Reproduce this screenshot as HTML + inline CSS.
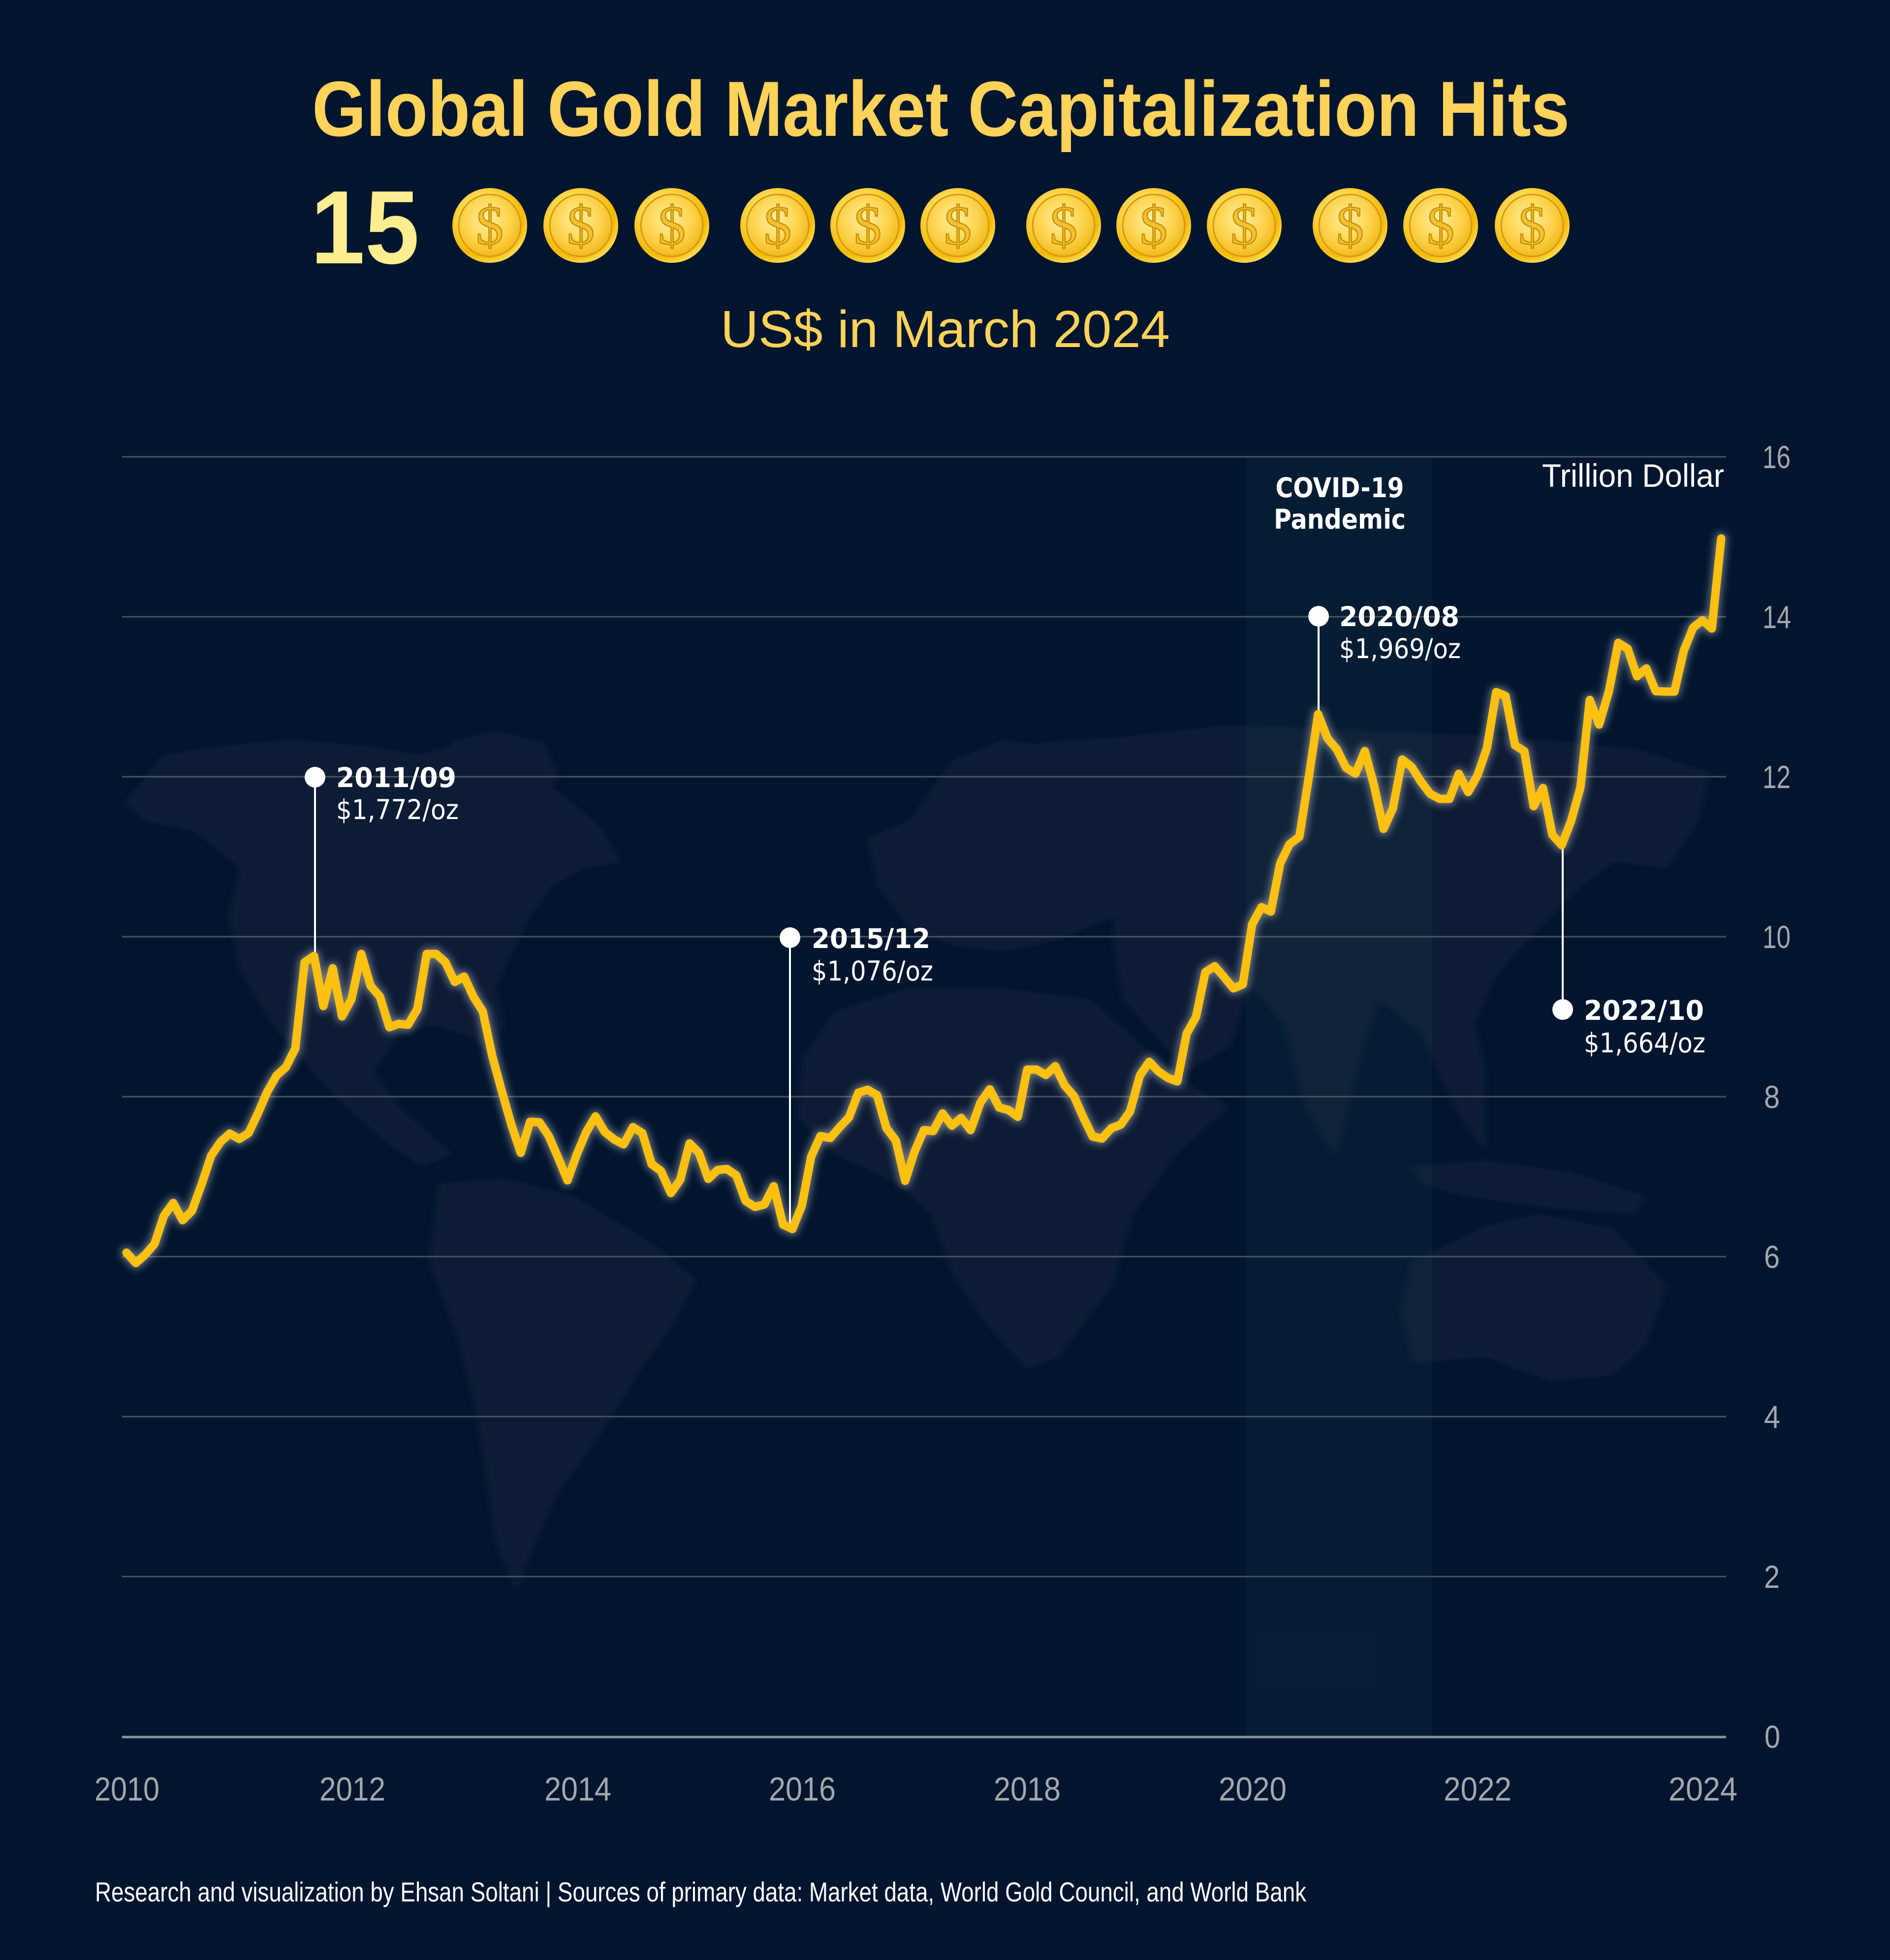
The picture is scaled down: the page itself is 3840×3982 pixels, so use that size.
<!DOCTYPE html>
<html>
<head>
<meta charset="utf-8">
<style>
  html,body{margin:0;padding:0;background:#01152e;}
  svg{display:block;}
</style>
</head>
<body>
<svg xmlns="http://www.w3.org/2000/svg" width="3840" height="3982" viewBox="0 0 3840 3982">
  <defs>
    <radialGradient id="cg" cx="0.42" cy="0.38" r="0.62">
      <stop offset="0" stop-color="#fff3a8"/>
      <stop offset="0.45" stop-color="#ffdc5a"/>
      <stop offset="0.85" stop-color="#f3b807"/>
      <stop offset="1" stop-color="#ffd84a"/>
    </radialGradient>
    <radialGradient id="cg2" cx="0.45" cy="0.4" r="0.65">
      <stop offset="0" stop-color="#fff0a0"/>
      <stop offset="0.6" stop-color="#fdd24a"/>
      <stop offset="1" stop-color="#eeb310"/>
    </radialGradient>
    <filter id="glow" x="-5%" y="-10%" width="110%" height="120%">
      <feGaussianBlur stdDeviation="8"/>
    </filter>
    <filter id="soft" x="-5%" y="-5%" width="110%" height="110%">
      <feGaussianBlur stdDeviation="4"/>
    </filter>
  </defs>

  <rect x="0" y="0" width="3840" height="3982" fill="#01152e"/>

  <!-- Title -->
  <text x="634" y="276" font-family="Liberation Sans, sans-serif" font-weight="bold" font-size="159" fill="#ffd35a" textLength="2555" lengthAdjust="spacingAndGlyphs">Global Gold Market Capitalization Hits</text>
  <text x="631" y="535" font-family="Liberation Sans, sans-serif" font-weight="bold" font-size="212" fill="#ffee90" textLength="221" lengthAdjust="spacingAndGlyphs">15</text>

  <!-- Coins -->
  <g font-family="Liberation Serif, serif" font-size="112" text-anchor="middle">
    <g transform="translate(995,458)"><circle r="76" fill="url(#cg)"/><circle r="63" fill="url(#cg2)" stroke="#d69a0c" stroke-width="3"/><text x="0" y="38" fill="#f4c232" stroke="#c98f08" stroke-width="2.5">$</text></g>
    <g transform="translate(1180,458)"><circle r="76" fill="url(#cg)"/><circle r="63" fill="url(#cg2)" stroke="#d69a0c" stroke-width="3"/><text x="0" y="38" fill="#f4c232" stroke="#c98f08" stroke-width="2.5">$</text></g>
    <g transform="translate(1365,458)"><circle r="76" fill="url(#cg)"/><circle r="63" fill="url(#cg2)" stroke="#d69a0c" stroke-width="3"/><text x="0" y="38" fill="#f4c232" stroke="#c98f08" stroke-width="2.5">$</text></g>
    <g transform="translate(1580,458)"><circle r="76" fill="url(#cg)"/><circle r="63" fill="url(#cg2)" stroke="#d69a0c" stroke-width="3"/><text x="0" y="38" fill="#f4c232" stroke="#c98f08" stroke-width="2.5">$</text></g>
    <g transform="translate(1763,458)"><circle r="76" fill="url(#cg)"/><circle r="63" fill="url(#cg2)" stroke="#d69a0c" stroke-width="3"/><text x="0" y="38" fill="#f4c232" stroke="#c98f08" stroke-width="2.5">$</text></g>
    <g transform="translate(1946,458)"><circle r="76" fill="url(#cg)"/><circle r="63" fill="url(#cg2)" stroke="#d69a0c" stroke-width="3"/><text x="0" y="38" fill="#f4c232" stroke="#c98f08" stroke-width="2.5">$</text></g>
    <g transform="translate(2161,458)"><circle r="76" fill="url(#cg)"/><circle r="63" fill="url(#cg2)" stroke="#d69a0c" stroke-width="3"/><text x="0" y="38" fill="#f4c232" stroke="#c98f08" stroke-width="2.5">$</text></g>
    <g transform="translate(2344,458)"><circle r="76" fill="url(#cg)"/><circle r="63" fill="url(#cg2)" stroke="#d69a0c" stroke-width="3"/><text x="0" y="38" fill="#f4c232" stroke="#c98f08" stroke-width="2.5">$</text></g>
    <g transform="translate(2528,458)"><circle r="76" fill="url(#cg)"/><circle r="63" fill="url(#cg2)" stroke="#d69a0c" stroke-width="3"/><text x="0" y="38" fill="#f4c232" stroke="#c98f08" stroke-width="2.5">$</text></g>
    <g transform="translate(2743,458)"><circle r="76" fill="url(#cg)"/><circle r="63" fill="url(#cg2)" stroke="#d69a0c" stroke-width="3"/><text x="0" y="38" fill="#f4c232" stroke="#c98f08" stroke-width="2.5">$</text></g>
    <g transform="translate(2927,458)"><circle r="76" fill="url(#cg)"/><circle r="63" fill="url(#cg2)" stroke="#d69a0c" stroke-width="3"/><text x="0" y="38" fill="#f4c232" stroke="#c98f08" stroke-width="2.5">$</text></g>
    <g transform="translate(3113,458)"><circle r="76" fill="url(#cg)"/><circle r="63" fill="url(#cg2)" stroke="#d69a0c" stroke-width="3"/><text x="0" y="38" fill="#f4c232" stroke="#c98f08" stroke-width="2.5">$</text></g>
  </g>

  <text x="1464" y="705" font-family="Liberation Sans, sans-serif" font-size="106" fill="#ffd35a" textLength="913" lengthAdjust="spacingAndGlyphs">US$ in March 2024</text>

  <!-- World map (approximate, faint) -->
  <g transform="translate(200,1400) scale(2.168,1.2117)" fill="#081c34" filter="url(#soft)">
    <polygon points="25,190 60,110 120,95 180,85 250,95 300,110 330,95 360,100 390,150 430,170 470,230 490,290 455,300 425,330 405,380 388,440 372,500 380,560 372,620 352,585 312,562 280,585 258,640 282,700 332,780 302,800 270,760 232,700 200,640 162,560 132,470 122,380 132,300 92,240 42,220"/>
    <polygon points="330,88 372,70 418,90 432,150 405,205 372,195 348,145"/>
    <polygon points="318,830 380,820 445,850 520,930 560,990 540,1060 505,1150 470,1250 430,1350 405,1450 392,1515 372,1430 362,1300 350,1180 335,1080 310,960"/>
    <polygon points="720,250 760,220 800,120 850,85 900,100 920,160 950,200 960,300 955,380 900,420 850,440 800,430 760,400 730,330"/>
    <polygon points="690,540 760,500 840,500 930,520 980,600 1020,660 1060,700 1010,780 970,880 950,1000 900,1120 870,1140 830,1060 800,980 780,880 750,830 690,780 655,720 660,620"/>
    <polygon points="880,90 960,80 1060,60 1200,70 1320,80 1440,100 1510,140 1500,220 1470,300 1420,290 1390,330 1340,420 1310,480 1290,560 1300,640 1300,780 1270,700 1240,580 1200,520 1180,640 1160,790 1130,700 1110,560 1080,500 1060,600 1020,640 960,520 950,420 960,300 940,200"/>
    <polygon points="1230,800 1300,790 1380,810 1450,850 1440,880 1360,870 1280,850 1240,830"/>
    <polygon points="1230,960 1300,900 1350,880 1420,905 1470,1000 1450,1100 1420,1150 1360,1160 1300,1120 1232,1130 1220,1040"/>
  </g>

  <!-- COVID band -->
  <rect x="2532" y="928" width="378" height="2600" fill="rgb(30,70,80)" fill-opacity="0.17"/>

  <!-- Gridlines -->
  <g stroke="#4d545c" stroke-width="3">
    <line x1="248" y1="928" x2="3507" y2="928"/>
    <line x1="248" y1="1253" x2="3507" y2="1253"/>
    <line x1="248" y1="1578" x2="3507" y2="1578"/>
    <line x1="248" y1="1903" x2="3507" y2="1903"/>
    <line x1="248" y1="2228" x2="3507" y2="2228"/>
    <line x1="248" y1="2553" x2="3507" y2="2553"/>
    <line x1="248" y1="2878" x2="3507" y2="2878"/>
    <line x1="248" y1="3203" x2="3507" y2="3203"/>
  </g>
  <line x1="248" y1="3529" x2="3507" y2="3529" stroke="#8b929a" stroke-width="5"/>

  <!-- Y labels -->
  <g font-family="Liberation Sans, sans-serif" font-size="65" fill="#a3a7ad">
    <text x="3581" y="951" textLength="57" lengthAdjust="spacingAndGlyphs">16</text>
    <text x="3581" y="1276" textLength="58" lengthAdjust="spacingAndGlyphs">14</text>
    <text x="3581" y="1601" textLength="57" lengthAdjust="spacingAndGlyphs">12</text>
    <text x="3581" y="1926" textLength="57" lengthAdjust="spacingAndGlyphs">10</text>
    <text x="3584" y="2251" textLength="32" lengthAdjust="spacingAndGlyphs">8</text>
    <text x="3584" y="2576" textLength="32" lengthAdjust="spacingAndGlyphs">6</text>
    <text x="3584" y="2901" textLength="33" lengthAdjust="spacingAndGlyphs">4</text>
    <text x="3584" y="3226" textLength="32" lengthAdjust="spacingAndGlyphs">2</text>
    <text x="3585" y="3551" textLength="32" lengthAdjust="spacingAndGlyphs">0</text>
  </g>

  <text x="3503" y="989" text-anchor="end" font-family="Liberation Sans, sans-serif" font-size="66" fill="#ffffff" textLength="370" lengthAdjust="spacingAndGlyphs">Trillion Dollar</text>

  <!-- X labels -->
  <g font-family="Liberation Sans, sans-serif" font-size="68" fill="#a3a7ad" text-anchor="middle">
    <text x="258" y="3658" textLength="132" lengthAdjust="spacingAndGlyphs">2010</text>
    <text x="716" y="3658" textLength="134" lengthAdjust="spacingAndGlyphs">2012</text>
    <text x="1174" y="3658" textLength="136" lengthAdjust="spacingAndGlyphs">2014</text>
    <text x="1630" y="3658" textLength="136" lengthAdjust="spacingAndGlyphs">2016</text>
    <text x="2087" y="3658" textLength="136" lengthAdjust="spacingAndGlyphs">2018</text>
    <text x="2545" y="3658" textLength="138" lengthAdjust="spacingAndGlyphs">2020</text>
    <text x="3002" y="3658" textLength="138" lengthAdjust="spacingAndGlyphs">2022</text>
    <text x="3460" y="3658" textLength="140" lengthAdjust="spacingAndGlyphs">2024</text>
  </g>

  <!-- COVID label -->
  <g font-family="DejaVu Sans, sans-serif" font-weight="bold" font-size="55" fill="#ffffff" text-anchor="middle">
    <text x="2722" y="1010" textLength="261" lengthAdjust="spacingAndGlyphs">COVID-19</text>
    <text x="2722" y="1074" textLength="268" lengthAdjust="spacingAndGlyphs">Pandemic</text>
  </g>

  <!-- Annotation connectors -->
  <g stroke="#ffffff" stroke-width="4">
    <line x1="640" y1="1579" x2="640" y2="1942"/>
    <line x1="1605" y1="1905" x2="1605" y2="2485"/>
    <line x1="2679" y1="1252" x2="2679" y2="1451"/>
    <line x1="3175" y1="2051" x2="3175" y2="1717"/>
  </g>

  <!-- Series glow + line -->
  <g fill="none" stroke-linejoin="round" stroke-linecap="round">
    <polyline stroke="#d8d8d8" stroke-width="24" opacity="0.5" filter="url(#glow)" points="257,2545 276,2566 295,2549 314,2527 333,2470 352,2444 371,2479 390,2460 410,2405 429,2348 448,2320 467,2303 486,2314 505,2302 524,2262 543,2218 562,2185 581,2168 600,2130 619,1955 638,1942 657,2044 676,1967 695,2065 714,2030 734,1938 753,2003 772,2025 791,2087 810,2080 829,2082 848,2050 867,1938 886,1938 905,1955 924,1995 943,1984 962,2025 981,2055 1000,2145 1019,2215 1039,2285 1058,2342 1077,2279 1096,2280 1115,2308 1134,2352 1153,2398 1172,2345 1191,2300 1210,2268 1229,2300 1248,2315 1267,2325 1286,2290 1305,2302 1324,2365 1343,2379 1363,2424 1382,2397 1401,2323 1420,2342 1439,2395 1458,2377 1477,2375 1496,2388 1515,2440 1534,2452 1553,2447 1572,2410 1591,2488 1610,2497 1629,2450 1648,2350 1667,2308 1687,2312 1706,2290 1725,2270 1744,2220 1763,2214 1782,2225 1801,2292 1820,2317 1839,2399 1858,2340 1877,2296 1896,2298 1915,2262 1934,2287 1953,2271 1972,2296 1992,2240 2011,2213 2030,2250 2049,2255 2068,2269 2087,2173 2106,2173 2125,2184 2144,2166 2163,2205 2182,2227 2201,2270 2220,2309 2239,2313 2258,2292 2277,2285 2296,2258 2316,2185 2335,2157 2354,2177 2373,2190 2392,2197 2411,2100 2430,2066 2449,1975 2468,1963 2487,1985 2506,2008 2525,2000 2544,1878 2563,1843 2582,1852 2601,1754 2620,1715 2640,1700 2659,1580 2678,1451 2697,1500 2716,1522 2735,1560 2754,1572 2773,1526 2792,1597 2811,1684 2830,1642 2849,1543 2868,1558 2887,1588 2906,1613 2925,1623 2945,1623 2964,1572 2983,1609 3002,1575 3021,1520 3040,1406 3059,1414 3078,1514 3097,1526 3116,1638 3135,1601 3154,1696 3173,1717 3192,1668 3211,1600 3230,1422 3249,1472 3269,1404 3288,1306 3307,1318 3326,1374 3345,1358 3364,1404 3383,1405 3402,1405 3421,1322 3440,1275 3459,1260 3478,1277 3497,1094"/>
    <polyline stroke="#fcc010" stroke-width="17" points="257,2545 276,2566 295,2549 314,2527 333,2470 352,2444 371,2479 390,2460 410,2405 429,2348 448,2320 467,2303 486,2314 505,2302 524,2262 543,2218 562,2185 581,2168 600,2130 619,1955 638,1942 657,2044 676,1967 695,2065 714,2030 734,1938 753,2003 772,2025 791,2087 810,2080 829,2082 848,2050 867,1938 886,1938 905,1955 924,1995 943,1984 962,2025 981,2055 1000,2145 1019,2215 1039,2285 1058,2342 1077,2279 1096,2280 1115,2308 1134,2352 1153,2398 1172,2345 1191,2300 1210,2268 1229,2300 1248,2315 1267,2325 1286,2290 1305,2302 1324,2365 1343,2379 1363,2424 1382,2397 1401,2323 1420,2342 1439,2395 1458,2377 1477,2375 1496,2388 1515,2440 1534,2452 1553,2447 1572,2410 1591,2488 1610,2497 1629,2450 1648,2350 1667,2308 1687,2312 1706,2290 1725,2270 1744,2220 1763,2214 1782,2225 1801,2292 1820,2317 1839,2399 1858,2340 1877,2296 1896,2298 1915,2262 1934,2287 1953,2271 1972,2296 1992,2240 2011,2213 2030,2250 2049,2255 2068,2269 2087,2173 2106,2173 2125,2184 2144,2166 2163,2205 2182,2227 2201,2270 2220,2309 2239,2313 2258,2292 2277,2285 2296,2258 2316,2185 2335,2157 2354,2177 2373,2190 2392,2197 2411,2100 2430,2066 2449,1975 2468,1963 2487,1985 2506,2008 2525,2000 2544,1878 2563,1843 2582,1852 2601,1754 2620,1715 2640,1700 2659,1580 2678,1451 2697,1500 2716,1522 2735,1560 2754,1572 2773,1526 2792,1597 2811,1684 2830,1642 2849,1543 2868,1558 2887,1588 2906,1613 2925,1623 2945,1623 2964,1572 2983,1609 3002,1575 3021,1520 3040,1406 3059,1414 3078,1514 3097,1526 3116,1638 3135,1601 3154,1696 3173,1717 3192,1668 3211,1600 3230,1422 3249,1472 3269,1404 3288,1306 3307,1318 3326,1374 3345,1358 3364,1404 3383,1405 3402,1405 3421,1322 3440,1275 3459,1260 3478,1277 3497,1094"/>
  </g>

  <!-- Annotation dots -->
  <g fill="#ffffff">
    <circle cx="640" cy="1579" r="21"/>
    <circle cx="1605" cy="1905" r="21"/>
    <circle cx="2679" cy="1252" r="21"/>
    <circle cx="3175" cy="2051" r="21"/>
  </g>

  <!-- Annotation texts -->
  <g font-family="DejaVu Sans, sans-serif" fill="#ffffff">
    <text x="683" y="1599" font-weight="bold" font-size="55" textLength="244" lengthAdjust="spacingAndGlyphs">2011/09</text>
    <text x="683" y="1664" font-size="55" textLength="249" lengthAdjust="spacingAndGlyphs">$1,772/oz</text>

    <text x="1649" y="1926" font-weight="bold" font-size="55" textLength="241" lengthAdjust="spacingAndGlyphs">2015/12</text>
    <text x="1649" y="1992" font-size="55" textLength="247" lengthAdjust="spacingAndGlyphs">$1,076/oz</text>

    <text x="2721" y="1272" font-weight="bold" font-size="55" textLength="244" lengthAdjust="spacingAndGlyphs">2020/08</text>
    <text x="2721" y="1337" font-size="55" textLength="247" lengthAdjust="spacingAndGlyphs">$1,969/oz</text>

    <text x="3218" y="2072" font-weight="bold" font-size="55" textLength="244" lengthAdjust="spacingAndGlyphs">2022/10</text>
    <text x="3218" y="2138" font-size="55" textLength="247" lengthAdjust="spacingAndGlyphs">$1,664/oz</text>
  </g>

  <!-- Footer -->
  <text x="193" y="3863" font-family="Liberation Sans, sans-serif" font-size="56" fill="#ffffff" textLength="2461" lengthAdjust="spacingAndGlyphs">Research and visualization by Ehsan Soltani | Sources of primary data: Market data, World Gold Council, and World Bank</text>
</svg>
</body>
</html>
